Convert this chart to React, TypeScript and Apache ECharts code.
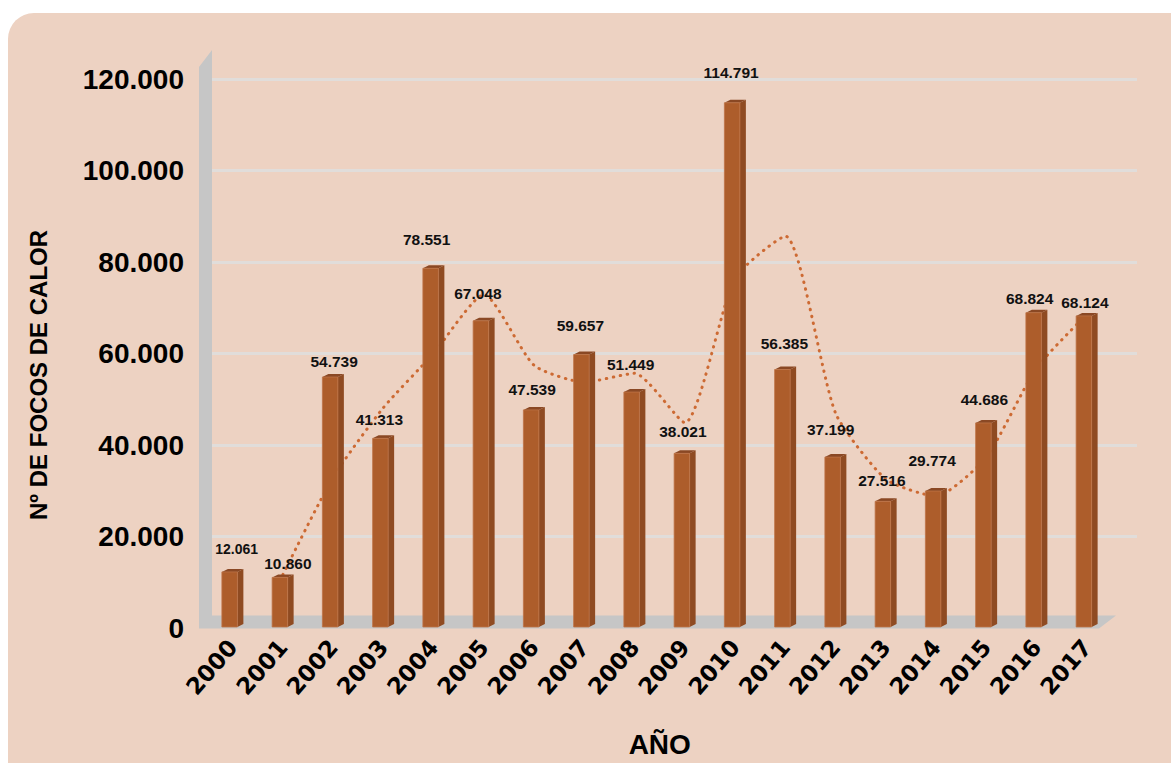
import { useEffect, useRef } from "react";
import * as echarts from "echarts";

const YEARS = ["2000", "2001", "2002", "2003", "2004", "2005", "2006", "2007", "2008", "2009", "2010", "2011", "2012", "2013", "2014", "2015", "2016", "2017"];
const FOCOS = [12061, 10860, 54739, 41313, 78551, 67048, 47539, 59657, 51449, 38021, 114791, 56385, 37199, 27516, 29774, 44686, 68824, 68124];
// dotted trend line (2-period moving average as drawn in the source)
const TENDENCIA = [null, 11460, 32800, 48030, 59930, 72800, 57290, 53600, 55550, 44740, 76410, 85590, 46790, 32360, 28650, 37230, 56760, 68470];
const Y_MIN = 0;
const Y_MAX = 120000;
const Y_STEP = 20000;
// small per-label nudges (dx, dy) relative to the bar top, as placed in the source
const LABEL_NUDGE = [[4, -23], [5, -14], [1, -16], [-4, -19], [-7, -29], [-6, -27], [-2, -20], [-4, -29], [-4, -28], [-2, -22], [-4, -30], [-1, -26], [-5, -28], [-4, -21], [-4, -31], [-2, -23], [-7, -14], [-2, -13]];

const FONT = "'Liberation Sans', Arial, sans-serif";
const XFONT = "'DejaVu Sans', 'Liberation Sans', sans-serif";

function fmt(n: number): string {
  if (n === 0) return "0";
  const th = Math.floor(n / 1000);
  const rest = String(Math.round(n % 1000)).padStart(3, "0");
  return th + "." + rest;
}

export default function App() {
  const ref = useRef<HTMLDivElement>(null);
  useEffect(() => {
    if (!ref.current) return;
    const chart = echarts.init(ref.current, null, { renderer: "svg" });
    const option: any = {
      animation: false,
      backgroundColor: "transparent",
      grid: [
        { left: 207.5, right: 59, top: 79, bottom: 135 },
        { left: 212, right: 34, top: 79, bottom: 135 },
      ],
      graphic: [
        {
          type: "polygon",
          z: -1,
          shape: {
            points: [[199, 67], [212, 50], [212, 615.5], [1116, 615.5], [1099, 628.5], [199, 628.5]],
          },
          style: { fill: "#C6C6C6" },
        },
        {
          type: "text",
          x: 38,
          y: 375,
          rotation: Math.PI / 2,
          style: {
            text: "Nº DE FOCOS DE CALOR",
            font: `bold 24px ${FONT}`,
            fill: "#000",
            textAlign: "center",
            textVerticalAlign: "middle",
          },
        },
      ],
      xAxis: [
        {
          type: "category",
          gridIndex: 0,
          data: YEARS,
          axisLine: { show: false },
          axisTick: { show: false },
          splitLine: { show: false },
          axisLabel: {
            rotate: 49,
            margin: 16,
            fontSize: 23,
            fontWeight: "bold",
            fontFamily: XFONT,
            color: "#000",
            interval: 0,
          },
          name: "AÑO",
          nameLocation: "middle",
          nameGap: 103,
          nameTextStyle: { fontSize: 28, fontWeight: "bold", fontFamily: FONT, color: "#000" },
        },
        { type: "value", gridIndex: 1, show: false, min: 0, max: 1 },
      ],
      yAxis: [
        {
          type: "value",
          gridIndex: 1,
          min: Y_MIN,
          max: Y_MAX,
          interval: Y_STEP,
          axisLine: { show: false },
          axisTick: { show: false },
          axisLabel: {
            margin: 28,
            fontSize: 28,
            fontWeight: "bold",
            fontFamily: FONT,
            color: "#000",
            formatter: (v: number) => fmt(v),
          },
          splitLine: { show: true, showMinLine: false, lineStyle: { color: "#E1DDDA", width: 3 } },
        },
        { type: "value", gridIndex: 0, min: Y_MIN, max: Y_MAX, interval: Y_STEP, show: false },
      ],
      series: [
        {
          type: "line",
          xAxisIndex: 0,
          yAxisIndex: 1,
          z: 3,
          data: TENDENCIA,
          symbol: "none",
          smooth: 0.2,
          connectNulls: false,
          lineStyle: { color: "#CD6A33", width: 3, type: [0.5, 6.5], cap: "round" },
        },
        {
          type: "custom",
          xAxisIndex: 0,
          yAxisIndex: 1,
          z: 4,
          data: FOCOS.map((v, i) => [i, v]),
          renderItem: (params: any, api: any) => {
            const i = api.value(0);
            const v = api.value(1);
            const top = api.coord([i, v]);
            const base = api.coord([i, 0]);
            const cx = top[0];
            const fl = cx - 10.75;
            const fr = cx + 4.75;
            const dx = 6;
            const dy = -3;
            const yt = top[1];
            const yb = base[1];
            const nudge = LABEL_NUDGE[i] || [0, -20];
            return {
              type: "group",
              children: [
                {
                  type: "polygon",
                  shape: { points: [[fr, yt], [fr + dx, yt + dy], [fr + dx, yb + dy], [fr, yb]] },
                  style: { fill: "#8F4B22" },
                },
                {
                  type: "polygon",
                  shape: { points: [[fl, yt], [fl + dx, yt + dy], [fr + dx, yt + dy], [fr, yt]] },
                  style: { fill: "#8A4824" },
                },
                {
                  type: "rect",
                  shape: { x: fl, y: yt, width: fr - fl, height: yb - yt },
                  style: { fill: "#AD5D2B", stroke: "#BE7447", lineWidth: 0.8 },
                },
                {
                  type: "text",
                  x: cx + nudge[0],
                  y: yt + nudge[1],
                  style: {
                    text: fmt(v),
                    font: `bold ${i === 0 ? 14 : 15.5}px ${FONT}`,
                    fill: "#111",
                    textAlign: "center",
                    textVerticalAlign: "middle",
                  },
                },
              ],
            };
          },
        },
      ],
    };
    chart.setOption(option);
    return () => chart.dispose();
  }, []);

  return (
    <div style={{ position: "absolute", left: 0, top: 0, width: 1171, height: 763, background: "#fff", overflow: "hidden" }}>
      <div style={{ position: "absolute", left: 8, top: 13, width: 1220, height: 820, borderRadius: 26, background: "#EDD2C2" }} />
      <div ref={ref} style={{ position: "absolute", left: 0, top: 0, width: 1171, height: 763 }} />
    </div>
  );
}
